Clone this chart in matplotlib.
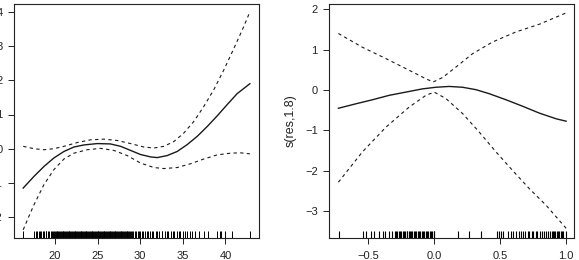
import matplotlib
matplotlib.use("Agg")
import matplotlib.pyplot as plt

plt.rcParams['font.family'] = ['Liberation Sans', 'DejaVu Sans']

# ---- Left panel data ----
left_x = [16.28, 17.54, 18.71, 19.88, 21.06, 22.23, 23.40, 24.96, 26.5, 27.7, 28.87, 30.04,
          31.22, 32.0, 33.17, 34.34, 35.51, 36.68, 37.86, 39.03, 40.2, 41.37, 42.86]
left_fit = [-1.15, -0.81, -0.52, -0.27, -0.08, 0.05, 0.11, 0.15, 0.14, 0.07, -0.05, -0.17,
            -0.24, -0.26, -0.20, -0.08, 0.12, 0.36, 0.65, 0.96, 1.29, 1.61, 1.90]

left_up_x = [16.28, 17.54, 18.71, 19.88, 21.06, 22.62, 24.18, 25.75, 27.3, 28.87, 30.43, 31.6,
             32.78, 33.95, 35.12, 36.3, 37.47, 38.64, 39.82, 41.0, 42.16, 42.86]
left_up = [0.07, 0.0, -0.03, 0.0, 0.07, 0.18, 0.26, 0.28, 0.24, 0.15, 0.05, 0.02,
           0.07, 0.21, 0.46, 0.80, 1.24, 1.73, 2.31, 2.94, 3.58, 4.0]

left_lo_x = [16.28, 16.94, 17.54, 18.71, 19.88, 21.06, 22.23, 23.79, 25.35, 26.91, 28.48, 30.04,
             31.6, 32.78, 34.34, 35.9, 37.47, 39.03, 40.6, 41.77, 42.86]
left_lo = [-2.37, -1.98, -1.64, -1.05, -0.61, -0.30, -0.13, -0.03, 0.01, -0.05, -0.20, -0.42,
           -0.55, -0.58, -0.55, -0.44, -0.30, -0.18, -0.13, -0.12, -0.15]

left_rug = [16.2,
            17.6, 17.8, 17.9, 18.1, 18.3, 18.4, 18.6, 18.7, 18.9, 19.0, 19.2, 19.3, 19.5, 19.6, 19.8, 19.9,
            20.0, 20.1, 20.2, 20.3, 20.4, 20.5, 20.6, 20.7, 20.8, 20.9,
            21.0, 21.1, 21.2, 21.3, 21.4, 21.5, 21.6, 21.7, 21.8, 21.9,
            22.0, 22.1, 22.2, 22.3, 22.4, 22.5, 22.6, 22.7, 22.8, 22.9,
            23.0, 23.1, 23.2, 23.3, 23.4, 23.5, 23.6, 23.7, 23.8, 23.9,
            24.0, 24.1, 24.2, 24.3, 24.4, 24.5, 24.6, 24.7, 24.8, 24.9,
            25.0, 25.1, 25.2, 25.3, 25.4, 25.5, 25.6, 25.7, 25.8, 25.9,
            26.0, 26.1, 26.2, 26.3, 26.4, 26.5, 26.6, 26.7, 26.8, 26.9,
            27.0, 27.1, 27.2, 27.3, 27.4, 27.5, 27.6, 27.7, 27.8, 27.9,
            28.0, 28.1, 28.2, 28.3, 28.4, 28.5, 28.6, 28.7, 28.8, 28.9, 29.0,
            29.2, 29.4, 29.5, 29.7, 29.9, 30.0, 30.2, 30.3, 30.6, 30.8, 30.9, 31.1, 31.4, 31.5,
            31.8, 32.0, 32.2, 32.5, 32.6, 32.9, 33.1, 33.3, 33.6, 33.8, 34.0, 34.3, 34.6, 34.7,
            35.0, 35.2, 35.5, 35.8, 36.1, 36.4,
            36.9, 37.5, 38.0, 39.0, 39.3, 39.5, 40.0, 40.8, 42.9]
left_xticks = [20, 25, 30, 35, 40]
left_yticks = [-2, -1, 0, 1, 2, 3, 4]

# ---- Right panel data: s(res,1.8) ----
right_x = [-0.727, -0.595, -0.469, -0.342, -0.215, -0.089, 0.013, 0.114, 0.215, 0.317, 0.418,
           0.545, 0.671, 0.798, 0.925, 1.001]
right_fit = [-0.45, -0.34, -0.24, -0.13, -0.05, 0.03, 0.07, 0.09, 0.07, 0.01, -0.09,
             -0.24, -0.40, -0.57, -0.71, -0.77]

right_up_x = [-0.727, -0.545, -0.367, -0.190, -0.063, -0.008, 0.063, 0.165, 0.291, 0.443,
              0.621, 0.798, 1.001]
right_up = [1.40, 1.06, 0.78, 0.49, 0.28, 0.20, 0.31, 0.57, 0.90, 1.19, 1.44, 1.63, 1.91]

right_lo_x = [-0.727, -0.545, -0.367, -0.190, -0.063, 0.0, 0.089, 0.215, 0.342, 0.469, 0.595,
              0.722, 0.849, 0.950, 1.001]
right_lo = [-2.28, -1.53, -0.92, -0.42, -0.13, -0.05, -0.21, -0.58, -1.04, -1.53, -1.99,
            -2.44, -2.85, -3.23, -3.42]

right_rug = [-0.72,
             -0.54, -0.52, -0.48, -0.46, -0.42, -0.39, -0.37, -0.34, -0.32, -0.30, -0.29, -0.28,
             -0.27, -0.26, -0.25, -0.24, -0.23, -0.22, -0.21,
             -0.205, -0.195, -0.185, -0.175, -0.165, -0.155, -0.145, -0.135, -0.125, -0.115,
             -0.105, -0.095, -0.085, -0.075, -0.065, -0.055, -0.045, -0.035, -0.025, -0.015,
             -0.005, 0.0,
             0.177, 0.266, 0.355, 0.48, 0.49, 0.51, 0.52, 0.56, 0.58, 0.60, 0.62, 0.64, 0.66,
             0.67, 0.69, 0.71, 0.72, 0.74, 0.75, 0.77, 0.78, 0.80, 0.82, 0.83, 0.85, 0.86,
             0.88, 0.89, 0.90, 0.91, 0.92, 0.93, 0.94, 0.95, 0.96, 0.97, 0.98, 1.00]
right_xticks = [-0.5, 0.0, 0.5, 1.0]
right_xticklabels = ["\u22120.5", "0.0", "0.5", "1.0"]
right_yticks = [-3, -2, -1, 0, 1, 2]
right_ylabel = "s(res,1.8)"

W, H = 579, 260
fig = plt.figure(figsize=(W / 100, H / 100), dpi=100)
ax1 = fig.add_axes([14 / W, 1 - 238 / H, 245 / W, 234 / H])
ax2 = fig.add_axes([329.3 / W, 1 - 238 / H, 245 / W, 234 / H])

lc = '#1a1a1a'
for ax in (ax1, ax2):
    for s in ax.spines.values():
        s.set_linewidth(0.8)
        s.set_color('#222222')
    ax.tick_params(direction='out', length=4, width=0.7, labelsize=8, colors='#222222')
    ax.tick_params(axis='x', pad=5.5)
    ax.tick_params(axis='y', pad=4.3)

# left
ax1.plot(left_x, left_fit, color=lc, lw=1.0)
ax1.plot(left_up_x, left_up, color=lc, lw=0.8, dashes=(3, 3))
ax1.plot(left_lo_x, left_lo, color=lc, lw=0.8, dashes=(3, 3))
ax1.vlines(left_rug, 0, 0.03, transform=ax1.get_xaxis_transform(), color='black', lw=0.7)
ax1.set_xlim(15.2, 43.93)
ax1.set_ylim(-2.61, 4.23)
ax1.set_xticks(left_xticks)
ax1.set_yticks(left_yticks)
ax1.set_yticklabels([str(v).replace('-', '\u2212') for v in left_yticks])

# right
ax2.plot(right_x, right_fit, color=lc, lw=1.0)
ax2.plot(right_up_x, right_up, color=lc, lw=0.8, dashes=(3, 3))
ax2.plot(right_lo_x, right_lo, color=lc, lw=0.8, dashes=(3, 3))
ax2.vlines(right_rug, 0, 0.03, transform=ax2.get_xaxis_transform(), color='black', lw=0.8)
ax2.set_xlim(-0.796, 1.063)
ax2.set_ylim(-3.66, 2.13)
ax2.set_xticks(right_xticks)
ax2.set_xticklabels(right_xticklabels)
ax2.set_yticks(right_yticks)
ax2.set_yticklabels([str(v).replace('-', '\u2212') for v in right_yticks])
ax2.set_ylabel(right_ylabel, fontsize=9, color='#222222', labelpad=6)

fig.savefig("out.png", dpi=100)
